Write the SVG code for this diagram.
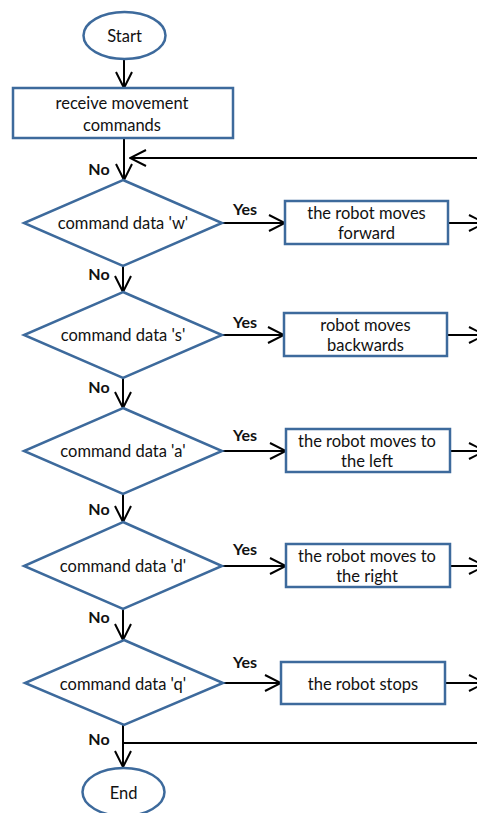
<svg xmlns="http://www.w3.org/2000/svg" width="477" height="813" viewBox="0 0 477 813">
  <style>
    .node { fill: #ffffff; stroke: #3d6a9c; stroke-width: 2.5; }
    .t { font-family: Lato, "Liberation Sans", sans-serif; font-size: 16.5px; fill: #111; text-anchor: middle; dominant-baseline: central; }
    .lbl { font-family: Lato, "Liberation Sans", sans-serif; font-size: 16px; font-weight: bold; fill: #111; text-anchor: middle; dominant-baseline: central; }
    .edge { fill: none; stroke: #000; stroke-width: 2; }
  </style>
  <defs>
    <marker id="arrow" viewBox="0 0 18 18" refX="17" refY="9" markerWidth="18" markerHeight="18" markerUnits="userSpaceOnUse" orient="auto">
      <path d="M1,1 L17,9 L1,17" fill="none" stroke="#000" stroke-width="2"/>
    </marker>
  </defs>

  <rect width="477" height="813" fill="#ffffff"/>

  <g id="connectors">
    <line class="edge" x1="124" y1="59" x2="124" y2="88" marker-end="url(#arrow)"/>
    <line class="edge" x1="124" y1="138" x2="124" y2="180" marker-end="url(#arrow)"/>
    <line class="edge" x1="477" y1="158" x2="130" y2="158" marker-end="url(#arrow)"/>

    <line class="edge" x1="123" y1="266" x2="123" y2="292" marker-end="url(#arrow)"/>
    <line class="edge" x1="123" y1="378" x2="123" y2="408" marker-end="url(#arrow)"/>
    <line class="edge" x1="123" y1="494" x2="123" y2="522" marker-end="url(#arrow)"/>
    <line class="edge" x1="123" y1="609" x2="123" y2="640" marker-end="url(#arrow)"/>
    <line class="edge" x1="123" y1="725" x2="123" y2="767" marker-end="url(#arrow)"/>
    <line class="edge" x1="123" y1="743" x2="477" y2="743"/>

    <line class="edge" x1="222" y1="223" x2="285" y2="223" marker-end="url(#arrow)"/>
    <line class="edge" x1="222" y1="335" x2="284" y2="335" marker-end="url(#arrow)"/>
    <line class="edge" x1="222" y1="451" x2="286" y2="451" marker-end="url(#arrow)"/>
    <line class="edge" x1="222" y1="566" x2="286" y2="566" marker-end="url(#arrow)"/>
    <line class="edge" x1="223" y1="683" x2="281" y2="683" marker-end="url(#arrow)"/>

    <line class="edge" x1="448" y1="223" x2="485" y2="223" marker-end="url(#arrow)"/>
    <line class="edge" x1="447" y1="335" x2="485" y2="335" marker-end="url(#arrow)"/>
    <line class="edge" x1="450" y1="451" x2="485" y2="451" marker-end="url(#arrow)"/>
    <line class="edge" x1="450" y1="566" x2="485" y2="566" marker-end="url(#arrow)"/>
    <line class="edge" x1="445" y1="683" x2="485" y2="683" marker-end="url(#arrow)"/>

    <text class="lbl" x="99" y="168">No</text>
    <text class="lbl" x="99" y="273">No</text>
    <text class="lbl" x="99" y="386">No</text>
    <text class="lbl" x="99" y="508">No</text>
    <text class="lbl" x="99" y="616">No</text>
    <text class="lbl" x="99" y="738">No</text>

    <text class="lbl" x="245" y="208">Yes</text>
    <text class="lbl" x="245" y="321">Yes</text>
    <text class="lbl" x="245" y="434">Yes</text>
    <text class="lbl" x="245" y="548">Yes</text>
    <text class="lbl" x="245" y="661">Yes</text>
  </g>

  <g id="start">
    <ellipse class="node" cx="124.5" cy="35.5" rx="41" ry="23.5"/>
    <text class="t" x="124.5" y="35.5">Start</text>
  </g>

  <g id="receive">
    <rect class="node" x="13" y="88" width="220" height="50"/>
    <text class="t" x="122" y="103">receive movement</text>
    <text class="t" x="122" y="125">commands</text>
  </g>

  <g id="check-w">
    <polygon class="node" points="123,180 222,223 123,266 24,223"/>
    <text class="t" x="123" y="223">command data 'w'</text>
  </g>
  <g id="forward">
    <rect class="node" x="285" y="201" width="163" height="43"/>
    <text class="t" x="366.5" y="213">the robot moves</text>
    <text class="t" x="366.5" y="233">forward</text>
  </g>

  <g id="check-s">
    <polygon class="node" points="123,292 222,335 123,378 24,335"/>
    <text class="t" x="123" y="335">command data 's'</text>
  </g>
  <g id="backwards">
    <rect class="node" x="284" y="313" width="163" height="43"/>
    <text class="t" x="365.5" y="325">robot moves</text>
    <text class="t" x="365.5" y="345">backwards</text>
  </g>

  <g id="check-a">
    <polygon class="node" points="123,408 222,451 123,494 24,451"/>
    <text class="t" x="123" y="451">command data 'a'</text>
  </g>
  <g id="left">
    <rect class="node" x="286" y="429" width="164" height="43"/>
    <text class="t" x="367" y="441">the robot moves to</text>
    <text class="t" x="367" y="461">the left</text>
  </g>

  <g id="check-d">
    <polygon class="node" points="123,522 222,566 123,609 24,566"/>
    <text class="t" x="123" y="566">command data 'd'</text>
  </g>
  <g id="right">
    <rect class="node" x="286" y="544" width="164" height="43"/>
    <text class="t" x="367" y="556">the robot moves to</text>
    <text class="t" x="367" y="576">the right</text>
  </g>

  <g id="check-q">
    <polygon class="node" points="124,640 223,683 124,725 25,683"/>
    <text class="t" x="123" y="684">command data 'q'</text>
  </g>
  <g id="stops">
    <rect class="node" x="281" y="662" width="164" height="42"/>
    <text class="t" x="363" y="684">the robot stops</text>
  </g>

  <g id="end">
    <ellipse class="node" cx="123.5" cy="792" rx="41" ry="24"/>
    <text class="t" x="123.5" y="793">End</text>
  </g>
</svg>
